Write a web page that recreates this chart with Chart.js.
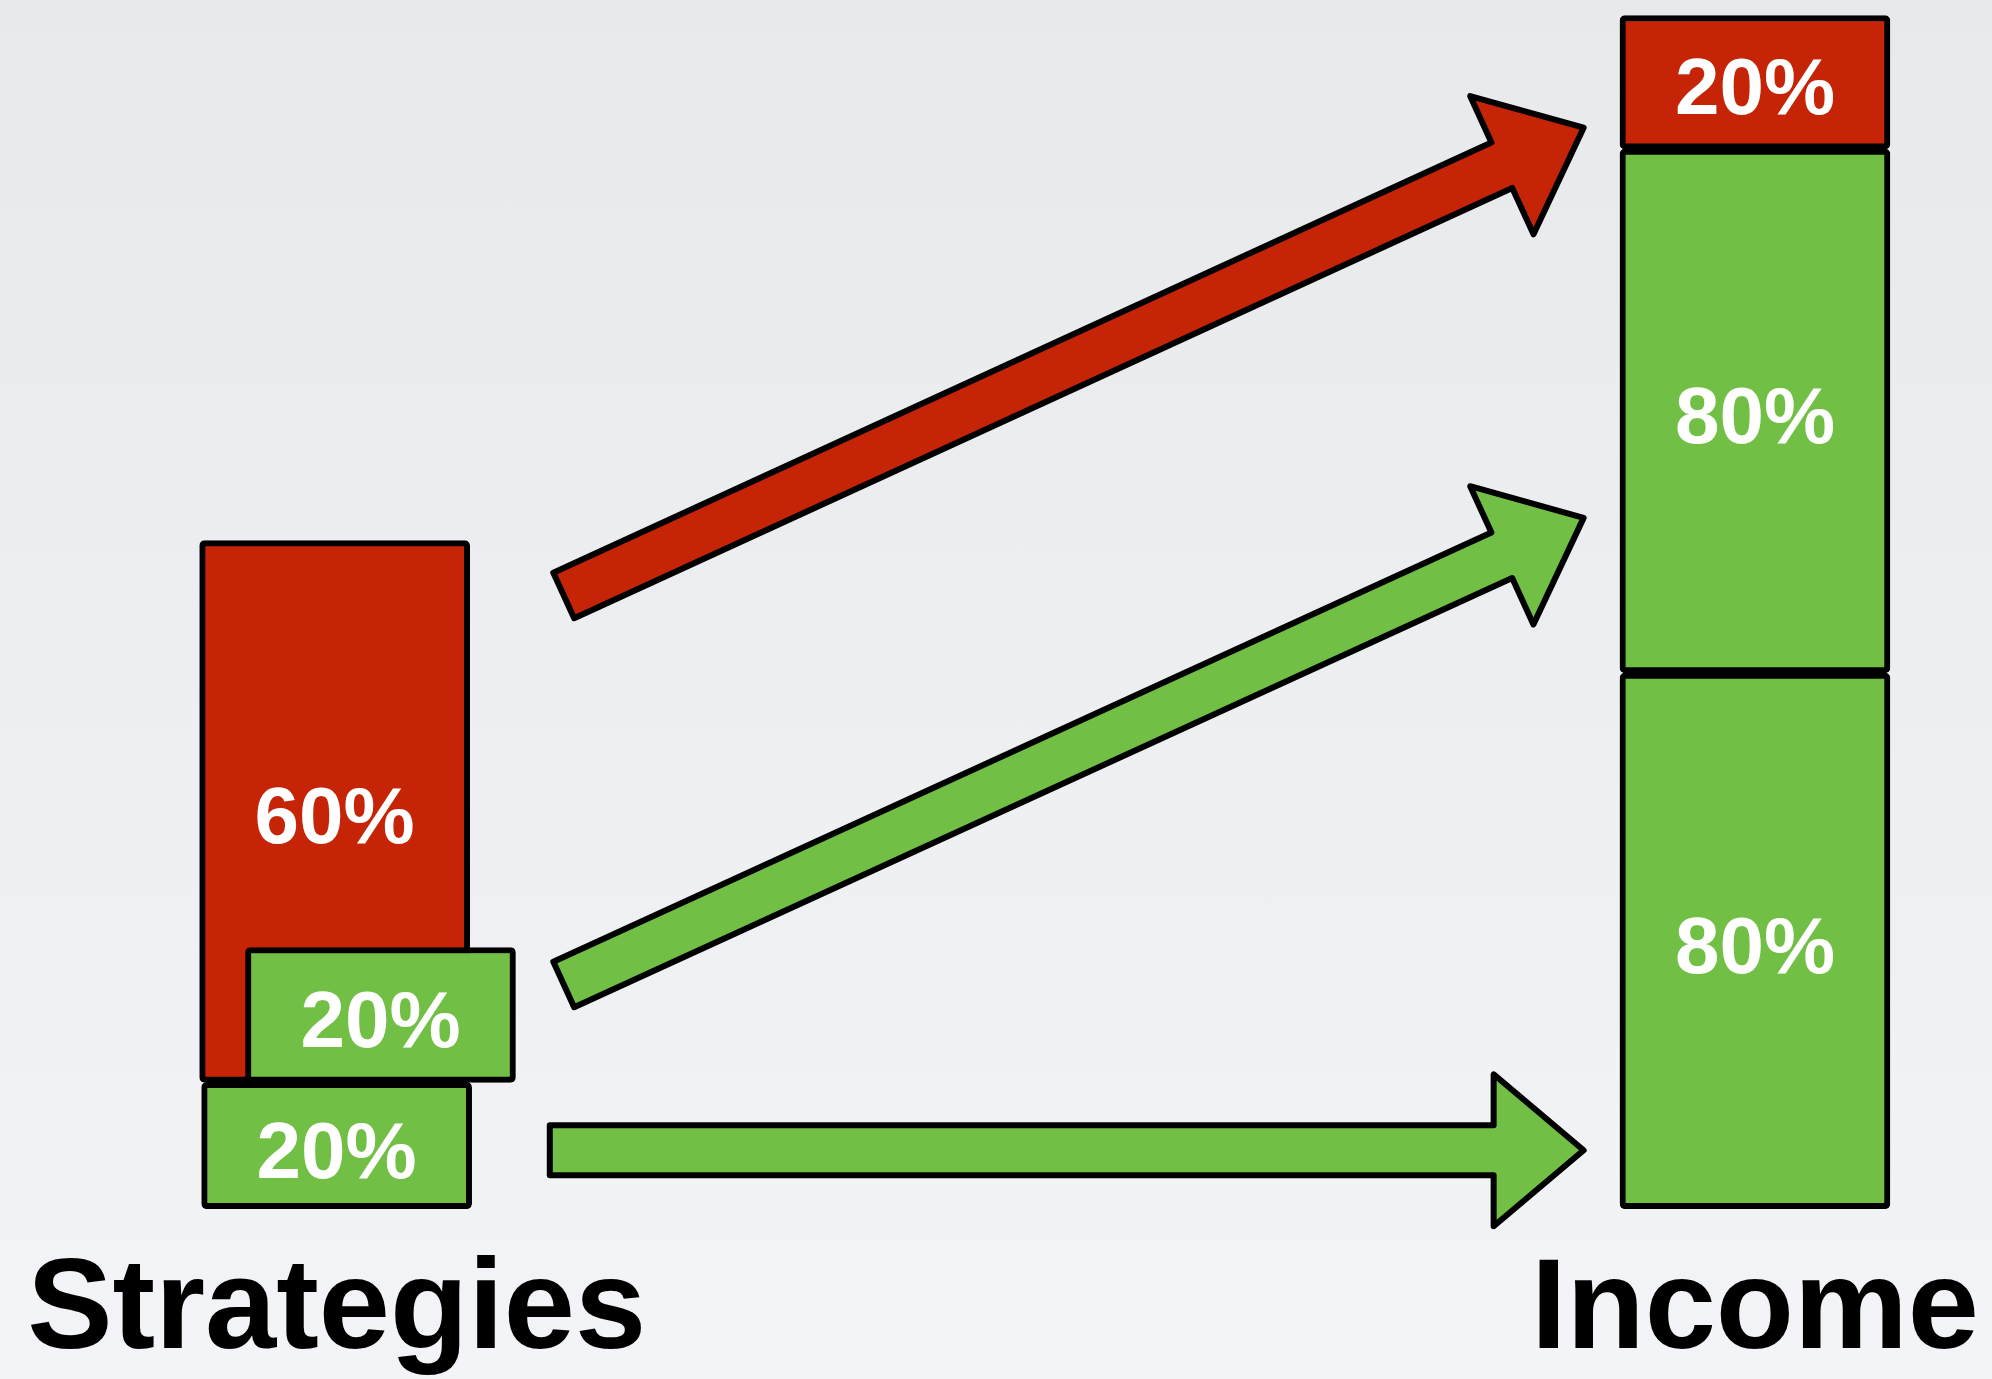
<!DOCTYPE html>
<html>
<head>
<meta charset="utf-8">
<script src="https://cdn.jsdelivr.net/npm/chart.js@4.4.1/dist/chart.umd.min.js"></script>
<style>
  html, body { margin: 0; padding: 0; }
  body {
    width: 1992px;
    height: 1379px;
    overflow: hidden;
    background: linear-gradient(#e7e9ec, #f3f4f7);
  }
</style>
</head>
<body>
<canvas id="flowChart" width="1992" height="1379"></canvas>
<script>
// x axis labels and where the two stacks sit on it
const stackLabels = ["Strategies", "Income"];
const stackCentres = [16.9, 88.1];

// red blocks (risky share)
const redX = [16.8, 88.1];
const redLow = [10.6, 88.8];
const redHigh = [56, 100];
const redText = ["60%", "20%"];

// green blocks (safe share)
const greenX = [16.9, 88.1, 88.1, 19.1];
const greenLow = [0, 44.9, 0, 10.6];
const greenHigh = [10.6, 88.8, 44.9, 21.9];
const greenText = ["20%", "80%", "80%", "20%"];

// arrows from the strategies side to the income side
const arrowFromX = [28.3, 28.3, 27.6];
const arrowFromY = [51.4, 18.8, 4.9];
const arrowToX = [79.5, 79.5, 79.5];
const arrowToY = [90.6, 57.9, 4.9];
const arrowKind = ["red", "green", "green"];

const RED = '#c52407';
const GREEN = '#71bf44';

const toPoints = (xs, lows, highs) => xs.map((x, i) => ({x: x, y: [lows[i], highs[i]]}));

const barStyle = {
  borderColor: '#000',
  borderWidth: 6,
  borderRadius: 5,
  borderSkipped: false,
  barThickness: 270,
  grouped: false
};

const chartData = {
  datasets: [
    Object.assign({label: 'Safe', data: toPoints(greenX, greenLow, greenHigh), backgroundColor: GREEN, texts: greenText}, barStyle),
    Object.assign({label: 'Risky', data: toPoints(redX, redLow, redHigh), backgroundColor: RED, texts: redText}, barStyle)
  ]
};

// white percentage in the middle of each block
const blockText = {
  id: 'blockText',
  afterDatasetsDraw(chart) {
    const ctx = chart.ctx;
    ctx.save();
    ctx.font = 'bold 80px "Liberation Sans", Arial, sans-serif';
    ctx.fillStyle = '#fff';
    ctx.textAlign = 'center';
    ctx.textBaseline = 'middle';
    chart.data.datasets.forEach((ds, di) => {
      chart.getDatasetMeta(di).data.forEach((bar, i) => {
        const p = bar.getProps(['x', 'y', 'base'], true);
        ctx.fillText(ds.texts[i], p.x, (p.y + p.base) / 2 + 10);
      });
    });
    ctx.restore();
  }
};

// the fat outlined arrows
const arrows = {
  id: 'arrows',
  beforeDatasetsDraw(chart) {
    const ctx = chart.ctx;
    const xs = chart.scales.x, ys = chart.scales.y;
    const shaft = 25, head = 76, headLen = 90;
    ctx.save();
    arrowFromX.forEach((v, i) => {
      const x0 = xs.getPixelForValue(arrowFromX[i]);
      const y0 = ys.getPixelForValue(arrowFromY[i]);
      const x1 = xs.getPixelForValue(arrowToX[i]);
      const y1 = ys.getPixelForValue(arrowToY[i]);
      const len = Math.hypot(x1 - x0, y1 - y0);
      const ux = (x1 - x0) / len, uy = (y1 - y0) / len;
      const nx = -uy, ny = ux;
      const bx = x1 - ux * headLen, by = y1 - uy * headLen;
      const pts = [
        [x0 + nx * shaft, y0 + ny * shaft],
        [bx + nx * shaft, by + ny * shaft],
        [bx + nx * head, by + ny * head],
        [x1, y1],
        [bx - nx * head, by - ny * head],
        [bx - nx * shaft, by - ny * shaft],
        [x0 - nx * shaft, y0 - ny * shaft]
      ];
      ctx.beginPath();
      pts.forEach((p, j) => j ? ctx.lineTo(p[0], p[1]) : ctx.moveTo(p[0], p[1]));
      ctx.closePath();
      ctx.fillStyle = arrowKind[i] === 'red' ? RED : GREEN;
      ctx.fill();
      ctx.lineWidth = 6;
      ctx.lineJoin = 'round';
      ctx.strokeStyle = '#000';
      ctx.stroke();
    });
    ctx.restore();
  }
};

const chartOptions = {
  responsive: false,
  animation: false,
  layout: { padding: { top: 0, left: 0, right: 0, bottom: 2 } },
  scales: {
    x: {
      type: 'linear',
      min: 0,
      max: 100,
      offset: false,
      bounds: 'data',
      grid: { display: false, offset: false },
      border: { display: false },
      afterBuildTicks: (scale) => {
        scale.ticks = stackCentres.map(v => ({value: v}));
      },
      afterFit: (scale) => {
        scale.paddingLeft = 0;
        scale.paddingRight = 0;
      },
      ticks: {
        autoSkip: false,
        maxRotation: 0,
        padding: 0,
        color: '#000',
        font: { family: '"Liberation Sans", Arial, sans-serif', weight: 'bold', size: 128, lineHeight: 1 },
        callback: (value) => stackLabels[stackCentres.indexOf(value)]
      }
    },
    y: {
      type: 'linear',
      min: -2.7,
      max: 101.3,
      display: false
    }
  },
  plugins: {
    legend: { display: false },
    tooltip: { enabled: false }
  }
};

const flowChart = new Chart(document.getElementById('flowChart'), {
  type: 'bar',
  data: chartData,
  options: chartOptions,
  plugins: [arrows, blockText]
});
</script>
</body>
</html>
